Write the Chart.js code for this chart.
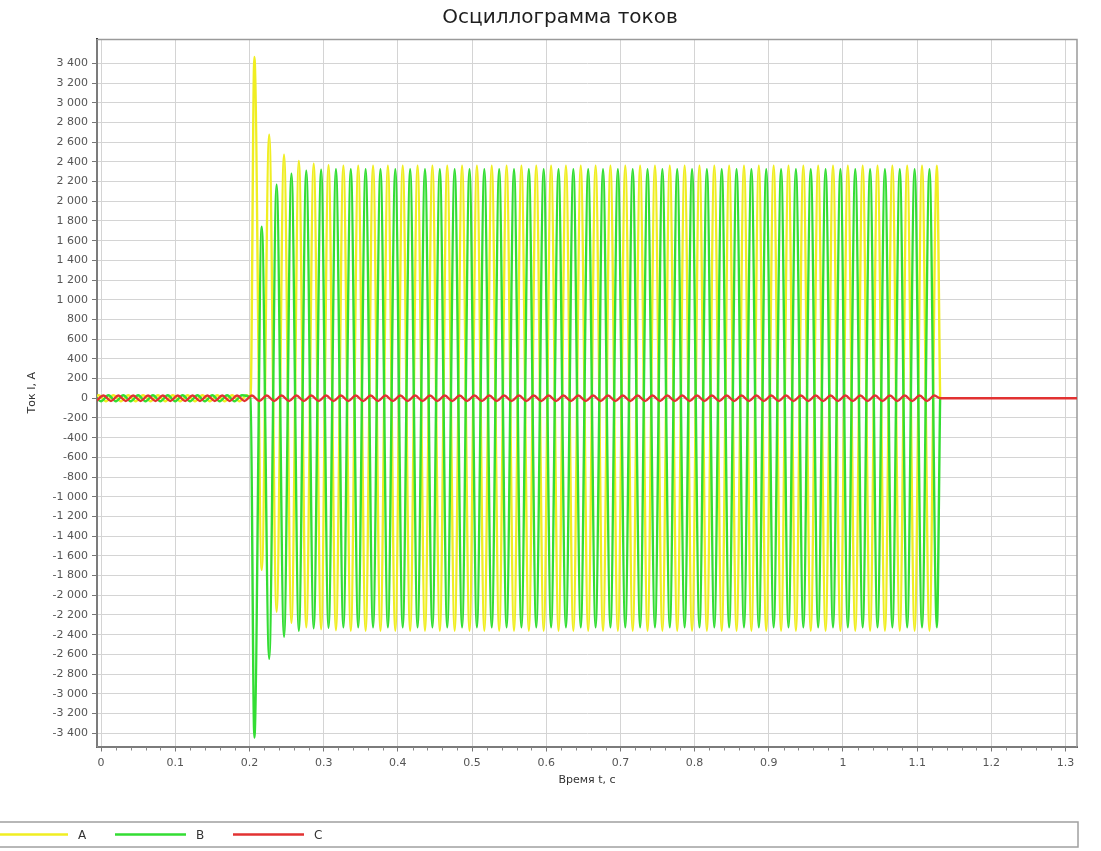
<!DOCTYPE html>
<html>
<head>
<meta charset="utf-8">
<title>Осциллограмма токов</title>
<script src="https://cdn.jsdelivr.net/npm/chart.js@4.4.1/dist/chart.umd.min.js"></script>
<style>
  html, body { margin: 0; padding: 0; background: #ffffff; }
  #wrap { width: 1101px; height: 851px; position: relative; }
</style>
</head>
<body>
<div id="wrap"><canvas id="osc"></canvas></div>
<script>
// ---- Recorded currents: successive extrema, one every half cycle (50 Hz) ----
const halfCycle = 0.01;          // s between successive extrema
const faultStart = 0.2015;       // s, fault inception
const faultFirstPeak = 0.2066;   // s, first extremum after inception
const clearTime = 1.131;         // s, breaker clears the fault
const recordEnd = 1.33;          // s, end of record

// Pre-fault load current extrema, A
const preStartA = -0.0134;
const preA = [-30, 30, -30, 30, -30, 30, -30, 30, -30, 30,
              -30, 30, -30, 30, -30, 30, -30, 30, -30, 30,
              -30, 30];
const preStartB = -0.0101;
const preB = [30, -30, 30, -30, 30, -30, 30, -30, 30, -30,
              30, -30, 30, -30, 30, -30, 30, -30, 30, -30,
              30];
const preStartC = -0.0067;
const phaseC = [-28, 28, -28, 28, -28, 28, -28, 28, -28, 28,
                -28, 28, -28, 28, -28, 28, -28, 28, -28, 28,
                -28, 28, -28, 28, -28, 28, -28, 28, -28, 28,
                -28, 28, -28, 28, -28, 28, -28, 28, -28, 28,
                -28, 28, -28, 28, -28, 28, -28, 28, -28, 28,
                -28, 28, -28, 28, -28, 28, -28, 28, -28, 28,
                -28, 28, -28, 28, -28, 28, -28, 28, -28, 28,
                -28, 28, -28, 28, -28, 28, -28, 28, -28, 28,
                -28, 28, -28, 28, -28, 28, -28, 28, -28, 28,
                -28, 28, -28, 28, -28, 28, -28, 28, -28, 28,
                -28, 28, -28, 28, -28, 28, -28, 28, -28, 28,
                -28, 28, -28, 28];

// Fault current extrema, phases A and B (A), starting at faultFirstPeak
const faultA = [3465, -1742, 2675, -2168, 2472, -2280, 2410, -2325, 2380, -2345,
                2365, -2355, 2360, -2360, 2360, -2360, 2360, -2360, 2360, -2360,
                2360, -2360, 2360, -2360, 2360, -2360, 2360, -2360, 2360, -2360,
                2360, -2360, 2360, -2360, 2360, -2360, 2360, -2360, 2360, -2360,
                2360, -2360, 2360, -2360, 2360, -2360, 2360, -2360, 2360, -2360,
                2360, -2360, 2360, -2360, 2360, -2360, 2360, -2360, 2360, -2360,
                2360, -2360, 2360, -2360, 2360, -2360, 2360, -2360, 2360, -2360,
                2360, -2360, 2360, -2360, 2360, -2360, 2360, -2360, 2360, -2360,
                2360, -2360, 2360, -2360, 2360, -2360, 2360, -2360, 2360, -2360,
                2360, -2360, 2360];
const faultB = [-3445, 1742, -2644, 2168, -2421, 2280, -2360, 2310, -2335, 2320,
                -2330, 2325, -2325, 2325, -2325, 2325, -2325, 2325, -2325, 2325,
                -2325, 2325, -2325, 2325, -2325, 2325, -2325, 2325, -2325, 2325,
                -2325, 2325, -2325, 2325, -2325, 2325, -2325, 2325, -2325, 2325,
                -2325, 2325, -2325, 2325, -2325, 2325, -2325, 2325, -2325, 2325,
                -2325, 2325, -2325, 2325, -2325, 2325, -2325, 2325, -2325, 2325,
                -2325, 2325, -2325, 2325, -2325, 2325, -2325, 2325, -2325, 2325,
                -2325, 2325, -2325, 2325, -2325, 2325, -2325, 2325, -2325, 2325,
                -2325, 2325, -2325, 2325, -2325, 2325, -2325, 2325, -2325, 2325,
                -2325, 2325, -2325];

// Axis ticks
const timeTicks = [0, 0.1, 0.2, 0.3, 0.4, 0.5, 0.6, 0.7, 0.8, 0.9, 1, 1.1, 1.2, 1.3];
const currentTicks = [-3400, -3200, -3000, -2800, -2600, -2400, -2200, -2000, -1800, -1600,
                      -1400, -1200, -1000, -800, -600, -400, -200, 0, 200, 400,
                      600, 800, 1000, 1200, 1400, 1600, 1800, 2000, 2200, 2400,
                      2600, 2800, 3000, 3200, 3400];
const timeMinorStep = 0.02;

const seriesNames = ['A', 'B', 'C'];
const seriesColors = ['#f0ee22', '#33dd33', '#e23232'];

// ---- Build point lists ----
function extrema(start, values) {
  return values.map((y, i) => ({ x: +(start + i * halfCycle).toFixed(4), y: y }));
}
const pointsA = [...extrema(preStartA, preA), { x: faultStart, y: 0 },
                 ...extrema(faultFirstPeak, faultA), { x: clearTime, y: 0 }];
const pointsB = [...extrema(preStartB, preB), { x: faultStart, y: 0 },
                 ...extrema(faultFirstPeak, faultB), { x: clearTime, y: 0 }];
const pointsC = [...extrema(preStartC, phaseC), { x: clearTime, y: 0 }, { x: recordEnd, y: 0 }];

function fmtAmp(v) {
  const s = Math.abs(v).toString().replace(/\B(?=(\d{3})+(?!\d))/g, ' ');
  return (v < 0 ? '-' : '') + s;
}
function fmtTime(v) {
  return (Math.round(v * 10) / 10).toString();
}

Chart.defaults.font.family = '"DejaVu Sans", "Liberation Sans", sans-serif';

// Gray frame around the plotting area
const framePlugin = {
  id: 'frame',
  beforeDatasetsDraw(chart) {
    const { ctx, chartArea: a } = chart;
    ctx.save();
    ctx.strokeStyle = '#9a9a9a';
    ctx.lineWidth = 1.5;
    ctx.strokeRect(a.left, a.top + 0.5, a.right - a.left, a.bottom - a.top);
    ctx.restore();
  }
};

// Minor tick marks on the time axis
const minorTicksPlugin = {
  id: 'minorTicks',
  afterDraw(chart) {
    const { ctx, scales: { x }, chartArea: a } = chart;
    ctx.save();
    ctx.strokeStyle = '#888';
    ctx.lineWidth = 1;
    const n = Math.round(timeTicks[timeTicks.length - 1] / timeMinorStep);
    for (let i = 0; i <= n; i++) {
      if (i % 5 === 0) continue;
      const px = Math.round(x.getPixelForValue(i * timeMinorStep)) + 0.5;
      if (px > a.right) break;
      ctx.beginPath();
      ctx.moveTo(px, a.bottom + 1);
      ctx.lineTo(px, a.bottom + 4);
      ctx.stroke();
    }
    ctx.restore();
  }
};

// Chart title and the boxed legend strip under the plot
const captionPlugin = {
  id: 'caption',
  afterDraw(chart) {
    const { ctx } = chart;
    ctx.save();
    ctx.fillStyle = '#1e1e1e';
    ctx.font = '20px "DejaVu Sans", sans-serif';
    ctx.textAlign = 'center';
    ctx.textBaseline = 'middle';
    ctx.fillText('Осциллограмма токов', 560, 18);

    // legend strip
    ctx.strokeStyle = '#a0a0a0';
    ctx.lineWidth = 1.5;
    ctx.strokeRect(-3, 822, 1081, 25);
    ctx.font = '12px "DejaVu Sans", sans-serif';
    ctx.textAlign = 'left';
    chart.data.datasets.forEach((ds, i) => {
      const x0 = -3 + 118 * i;
      const y = 834.5;
      ctx.strokeStyle = ds.borderColor;
      ctx.lineWidth = 2.5;
      ctx.beginPath();
      ctx.moveTo(x0, y);
      ctx.lineTo(x0 + 71, y);
      ctx.stroke();
      ctx.fillStyle = '#333';
      ctx.fillText(ds.label, x0 + 81, y + 1);
    });
    ctx.restore();
  }
};

const lineStyle = { borderWidth: 2.4, pointRadius: 0, fill: false, cubicInterpolationMode: 'monotone' };

new Chart(document.getElementById('osc'), {
  type: 'line',
  data: {
    datasets: [
      { label: seriesNames[0], data: pointsA, borderColor: seriesColors[0], order: 3, ...lineStyle },
      { label: seriesNames[1], data: pointsB, borderColor: seriesColors[1], order: 2, ...lineStyle },
      { label: seriesNames[2], data: pointsC, borderColor: seriesColors[2], order: 1, ...lineStyle }
    ]
  },
  options: {
    responsive: true,
    maintainAspectRatio: false,
    animation: false,
    devicePixelRatio: 1,
    parsing: false,
    layout: { padding: { top: 39, right: 24, bottom: 0, left: 0 } },
    plugins: {
      legend: { display: false },
      title: { display: false },
      tooltip: { enabled: false }
    },
    scales: {
      x: {
        type: 'linear',
        min: -0.0055,
        max: 1.3155,
        afterFit(s) { s.height = 104.5; },
        afterBuildTicks(s) { s.ticks = timeTicks.map(v => ({ value: v })); },
        grid: { color: '#d4d4d4', lineWidth: 1, tickLength: 5, tickColor: '#777' },
        border: { color: '#222', width: 2 },
        ticks: {
          autoSkip: false, maxRotation: 0, padding: 5,
          color: '#555', font: { size: 11 },
          callback: (v) => fmtTime(v)
        },
        title: {
          display: true, text: 'Время t, c', color: '#333',
          font: { size: 11 }, padding: { top: 0, bottom: 64 }
        }
      },
      y: {
        type: 'linear',
        min: -3535,
        max: 3647,
        afterFit(s) { s.width = 97; },
        afterBuildTicks(s) { s.ticks = currentTicks.map(v => ({ value: v })); },
        grid: { color: '#d4d4d4', lineWidth: 1, tickLength: 5, tickColor: '#777' },
        border: { color: '#222', width: 2 },
        ticks: {
          autoSkip: false, padding: 4,
          color: '#555', font: { size: 11 },
          callback: (v) => fmtAmp(v)
        },
        title: {
          display: true, text: 'Ток I, A', color: '#333',
          font: { size: 11 }, padding: { top: 26, bottom: 0 }
        }
      }
    }
  },
  plugins: [framePlugin, minorTicksPlugin, captionPlugin]
});
</script>
</body>
</html>
